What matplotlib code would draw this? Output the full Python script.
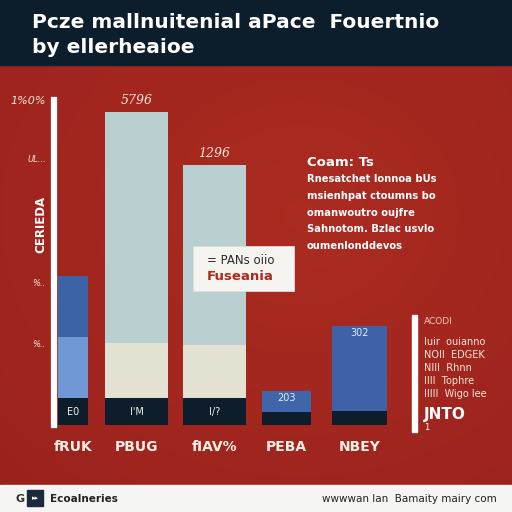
import numpy as np
import matplotlib
matplotlib.use("Agg")
import matplotlib.pyplot as plt
from matplotlib.patches import Rectangle

# ---------------- data ----------------
categories = ["fRUK", "PBUG", "fIAV%", "PEBA", "NBEY"]
seg_base = [8.3, 8.3, 8.3, 4.0, 4.3]      # navy bottom segment
seg_mid = [18.8, 16.9, 16.3, 6.5, 26.2]   # middle segment
seg_top = [18.8, 71.1, 55.4, 0.0, 0.0]    # top segment
inner_labels = ["E0", "I'M", "I/?", "203", "302"]
top_labels = ["", "5796", "1296", "", ""]
ytick_vals = [100, 82, 44, 25]
ytick_text = ["1%0%", "UL...", "%..", "%.."]
title_lines = ["Pcze mallnuitenial aPace  Fouertnio", "by ellerheaioe"]
note_title = "Coam: Ts"
note_lines = ["Rnesatchet lonnoa bUs", "msienhpat ctoumns bo",
              "omanwoutro oujfre", "Sahnotom. Bzlac usvlo",
              "oumenlonddevos"]
legend_lines = ["Iuir  ouianno", "NOII  EDGEK", "NIII  Rhnn", "IIII  Tophre", "IIIII  Wigo lee"]

# ---------------- layout / style ----------------
xpos = [16, 79.5, 157.5, 229.5, 302.5]
widths = [30, 63, 63, 49, 55]
c_navy = "#0e1d2b"
base_cols = [c_navy] * 5
mid_cols = ["#6f98d4", "#e3e2d2", "#e3e2d2", "#3f65ab", "#3d62a8"]
top_cols = ["#3c63a6", "#b9cfd0", "#b9cfd0", "#3f65ab", "#3d62a8"]

W = H = 512
fig = plt.figure(figsize=(5.12, 5.12), dpi=100)

# background with gentle gradient
bg = fig.add_axes([0, 0, 1, 1])
bg.set_xlim(0, W); bg.set_ylim(H, 0); bg.axis("off")
yy, xx = np.mgrid[0:420, 0:512]
d = np.sqrt(((xx - 300) / 480.0) ** 2 + ((yy - 150) / 420.0) ** 2)
base = np.array([0.67, 0.17, 0.13])
edge = np.array([0.60, 0.13, 0.11])
t = np.clip(d, 0, 1)[..., None]
img = base * (1 - t) + edge * t
bg.imshow(img, extent=[0, 512, 485, 65], aspect="auto", zorder=0)
bg.add_patch(Rectangle((0, 0), 512, 65, color="#0c1e2b", zorder=1))
bg.add_patch(Rectangle((0, 485), 512, 27, color="#f5f5f3", zorder=1))

# title
for i, line in enumerate(title_lines):
    bg.text(32, 28 + i * 25, line, color="white", fontsize=14.5, fontweight="bold",
            va="baseline", ha="left", zorder=3, family="DejaVu Sans")

# footer
bg.text(15, 499, "G", color="#333333", fontsize=8, fontweight="bold", va="center", zorder=3)
bg.add_patch(Rectangle((27, 490), 16, 16, color="#1c2a3c", zorder=3))
bg.text(35, 498, "\u25b8\u25b8", color="white", fontsize=5, ha="center", va="center", zorder=4)
bg.text(50, 499, "Ecoalneries", color="#222222", fontsize=7.5, fontweight="bold", va="center", zorder=3)
bg.text(497, 499, "wwwwan lan  Bamaity mairy com", color="#222222", fontsize=7.5,
        ha="right", va="center", zorder=3)

# ---------------- bar axes ----------------
x0, x1, yb, yt = 57, 400, 425, 100
ax = fig.add_axes([x0 / W, (H - yb) / H, (x1 - x0) / W, (yb - yt) / H])
ax.set_facecolor("none")
ax.set_xlim(0, x1 - x0)
ax.set_ylim(0, 100)
for s in ["top", "right", "bottom"]:
    ax.spines[s].set_visible(False)
ax.spines["left"].set_color("white")
ax.spines["left"].set_linewidth(4.5)
ax.spines["left"].set_position(("outward", 2))
ax.set_xticks([])
ax.set_yticks(ytick_vals)
ax.set_yticklabels(ytick_text, color="#f3e7d8", fontsize=6, style="italic")
ax.tick_params(axis="y", length=0, pad=6)
ax.get_yticklabels()[0].set_fontsize(8)

b0 = np.array(seg_base)
b1 = b0 + np.array(seg_mid)
ax.bar(xpos, seg_base, width=widths, color=base_cols, zorder=2)
ax.bar(xpos, seg_mid, width=widths, bottom=b0, color=mid_cols, zorder=2)
ax.bar(xpos, seg_top, width=widths, bottom=b1, color=top_cols, zorder=2)
totals = b1 + np.array(seg_top)

for i in range(5):
    if i < 3:
        ax.text(xpos[i], seg_base[i] / 2, inner_labels[i], color="#f2f2ea", fontsize=7,
                ha="center", va="center", zorder=3)
    else:
        ax.text(xpos[i], seg_base[i] + seg_mid[i] - 2.2, inner_labels[i], color="#e8ecf5",
                fontsize=7, ha="center", va="center", zorder=3)
    if top_labels[i]:
        ax.text(xpos[i], totals[i] + 1.5, top_labels[i], color="#f6ead8", fontsize=9,
                style="italic", ha="center", va="bottom", zorder=3, family="DejaVu Serif")
    ax.text(xpos[i], -4.5, categories[i], color="#f7efe6", fontsize=10, fontweight="bold",
            ha="center", va="top", zorder=3, family="DejaVu Sans", clip_on=False)

# ---------------- overlay for annotations ----------------
fg = fig.add_axes([0, 0, 1, 1])
fg.set_xlim(0, W); fg.set_ylim(H, 0); fg.axis("off")
fg.patch.set_alpha(0)

# rotated axis label
fg.text(41, 224, "CERIEDA", rotation=90, color="white", fontsize=8.5, fontweight="bold",
        ha="center", va="center", zorder=3)

# callout box
fg.add_patch(Rectangle((193, 246), 101, 45, facecolor="#f6f4f0", edgecolor="#dddddd",
                       lw=0.6, zorder=5))
fg.text(207, 261, "= PANs oiio", color="#2a2a2a", fontsize=8.5, va="center", zorder=6)
fg.text(207, 277, "Fuseania", color="#b3281e", fontsize=9.5, fontweight="bold",
        va="center", zorder=6)

# note text
fg.text(307, 162, note_title, color="white", fontsize=9.5, fontweight="bold", va="center", zorder=3)
for i, line in enumerate(note_lines):
    fg.text(307, 179 + i * 16.8, line, color="white", fontsize=7.2, fontweight="bold",
            va="center", zorder=3)

# right legend
fg.add_patch(Rectangle((412, 315), 4.5, 117, color="white", zorder=3))
fg.text(424, 322, "ACODI", color="#f1c9b8", fontsize=6.5, va="center", zorder=3)
for i, line in enumerate(legend_lines):
    fg.text(424, 342 + i * 13, line, color="#f6e9dc", fontsize=7, va="center", zorder=3)
fg.text(424, 414, "JNTO", color="white", fontsize=11, fontweight="bold", va="center", zorder=3)
fg.text(424, 428, "1", color="white", fontsize=6, va="center", zorder=3)

fig.savefig("out.png", dpi=100)
